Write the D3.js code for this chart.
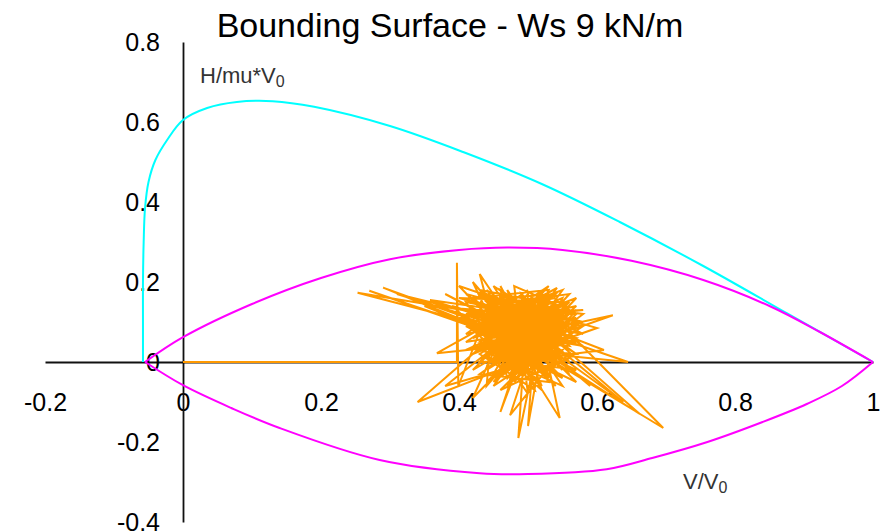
<!DOCTYPE html>
<html>
<head>
<meta charset="utf-8">
<script src="https://cdn.jsdelivr.net/npm/d3@7"></script>
<style>
	body { margin: 0; background: #fff; }
	svg text { font-family: "Liberation Sans", Arial, sans-serif; }
</style>
</head>
<body>
<svg></svg>
<script>

	var width = 880,
		height = 532;

	// values, [V/V0, H/mu*V0]
	var xTicks = [-0.2, 0, 0.2, 0.4, 0.6, 0.8, 1];
	var yTicks = [-0.4, -0.2, 0, 0.2, 0.4, 0.6, 0.8];

	var cyanCurve = [
		[-0.058, 0], [-0.058, 0.1], [-0.058, 0.2], [-0.057, 0.3], [-0.055, 0.385],
		[-0.05, 0.45], [-0.04, 0.505], [-0.023, 0.555], [0, 0.605], [0.035, 0.635],
		[0.078, 0.65], [0.13, 0.652], [0.19, 0.638], [0.3, 0.59], [0.406, 0.525],
		[0.52, 0.445], [0.633, 0.35], [0.754, 0.24], [0.875, 0.122], [1, 0]
	];

	var magentaUpper = [
		[-0.055, 0], [0, 0.062], [0.1, 0.145], [0.2, 0.21], [0.3, 0.257],
		[0.4, 0.28], [0.47, 0.286], [0.55, 0.28], [0.65, 0.253], [0.754, 0.205],
		[0.85, 0.14], [0.923, 0.075], [1, 0]
	];

	var magentaLower = [
		[-0.055, 0], [0, -0.058], [0.07, -0.115], [0.14, -0.165], [0.285, -0.245],
		[0.43, -0.278], [0.5, -0.28], [0.614, -0.268], [0.68, -0.24], [0.76, -0.2],
		[0.84, -0.15], [0.904, -0.105], [0.955, -0.06], [1, 0]
	];

	var stressPath = [
		[0,0],[0.397,0],[0.397,0.248],[0.399,-0.06],
		[0.44,0.12],[0.253,0.173],[0.46,0.08],[0.29,0.186],[0.47,0.06],[0.27,0.178],[0.45,0.07],
		[0.52,0.02],[0.43,0.15],[0.55,0.05],[0.48,-0.03],[0.50,0.14],[0.34,-0.10],[0.46,-0.02],
		[0.54,0.11],[0.45,0.01],[0.56,0.08],[0.47,0.16],[0.51,-0.04],[0.44,0.05],[0.623,0.117],
		[0.53,0.06],[0.48,0.12],[0.52,-0.02],[0.43,0.09],[0.55,0.13],[0.49,0.00],[0.46,0.14],
		[0.57,0.02],[0.50,0.10],[0.44,-0.01],[0.54,0.15],[0.47,0.03],[0.645,0.0],[0.51,0.08],
		[0.45,0.13],[0.53,-0.03],[0.48,0.07],[0.56,0.11],[0.43,0.04],[0.50,0.17],[0.486,-0.19],
		[0.52,0.09],[0.46,0.11],[0.55,0.01],[0.49,0.15],[0.44,0.02],[0.53,0.12],[0.47,-0.04],
		[0.43,0.22],[0.50,0.04],[0.56,0.14],[0.45,0.06],[0.52,0.16],[0.48,-0.01],[0.54,0.07],
		[0.42,0.11],[0.51,0.13],[0.46,0.00],[0.55,0.09],[0.696,-0.165],[0.49,0.05],[0.44,0.14],
		[0.53,0.03],[0.47,0.10],[0.57,0.06],[0.45,-0.03],[0.50,0.12],[0.358,0.155],[0.48,0.09],
		[0.54,-0.01],[0.46,0.05],[0.52,0.14],[0.43,0.07],[0.56,0.04],[0.49,0.17],[0.51,-0.02],
		[0.45,0.10],[0.542,0.185],[0.47,0.02],[0.53,0.10],[0.44,0.08],[0.55,0.16],[0.50,-0.03],
		[0.48,0.13],[0.368,0.022],[0.52,0.05],[0.46,0.15],[0.57,0.09],[0.49,0.02],[0.43,0.12],
		[0.54,0.04],[0.47,0.14],[0.638,-0.10],[0.51,0.06],[0.45,0.04],[0.56,0.12],[0.48,0.00],
		[0.53,0.15],[0.44,0.10],[0.50,0.07],[0.46,-0.01],[0.55,0.03],[0.474,-0.133],[0.52,0.11],
		[0.47,0.08],[0.54,0.13],[0.42,0.06],[0.49,0.14],[0.60,0.085],[0.51,0.03],[0.45,0.12],
		[0.53,0.08],[0.48,0.16],[0.56,0.00],[0.46,0.09],[0.31,0.17],[0.50,0.09],[0.44,-0.02],
		[0.55,0.10],[0.47,0.13],[0.52,0.00],[0.46,0.19],[0.49,0.08],[0.54,0.02],[0.43,0.05],
		[0.51,0.15],[0.546,-0.14],[0.48,0.04],[0.57,0.11],[0.45,0.08],[0.52,0.12],[0.40,0.19],
		[0.50,0.01],[0.55,0.07],[0.47,0.11],[0.53,-0.04],[0.44,0.13],[0.49,0.06],[0.662,-0.13],
		[0.51,0.10],[0.46,0.03],[0.56,0.06],[0.48,0.14],[0.42,-0.09],[0.50,0.05],[0.54,0.09],
		[0.45,0.15],[0.52,0.04],[0.47,0.00],[0.61,0.03],[0.49,0.11],[0.44,0.06],[0.53,0.13],
		[0.50,-0.16],[0.51,0.07],[0.46,0.12],[0.55,0.02],[0.48,0.10],[0.57,0.16],[0.50,0.03],
		[0.43,0.10],[0.54,0.06],[0.47,0.15],[0.52,0.01],[0.38,-0.06],[0.49,0.09],[0.56,0.10],
		[0.45,0.02],[0.51,0.12],[0.35,0.14],[0.48,0.05],[0.53,0.07],[0.46,0.13],[0.59,-0.06],
		[0.50,0.08],[0.44,0.04],[0.55,0.12],[0.47,0.07],[0.52,0.15],[0.46,-0.125],[0.49,0.03],
		[0.54,0.10],[0.45,0.11],[0.51,0.01],[0.48,0.08],[0.52,0.18],[0.50,0.06],[0.38,0.17],
		[0.47,0.09],[0.53,0.05],[0.49,0.12],[0.51,0.04],
		[0.48,0.06],[0.52,0.10],[0.46,0.04],[0.50,0.13],[0.53,0.02],[0.47,0.12],[0.51,0.00],[0.49,0.11],[0.45,0.07],[0.54,0.08],
		[0.48,0.02],[0.50,0.14],[0.52,0.06],[0.46,0.09],[0.53,0.12],[0.49,-0.01],[0.47,0.05],[0.51,0.11],[0.45,0.03],[0.54,0.05],
		[0.50,0.09],[0.46,0.13],[0.52,0.03],[0.48,0.10],[0.53,0.07],[0.47,0.01],[0.51,0.14],[0.49,0.04],[0.45,0.10],[0.54,0.11],
		[0.41,0.17],[0.48,0.08],[0.52,-0.01],[0.46,0.06],[0.50,0.02],[0.53,0.09],[0.47,0.13],[0.51,0.05],[0.49,0.12],[0.45,0.00],
		[0.54,0.03],[0.50,0.11],[0.46,0.08],[0.52,0.13],[0.48,0.03],[0.53,0.00],[0.47,0.07],[0.51,0.09],[0.49,0.01],[0.45,0.12],
		[0.58,0.13],[0.48,0.11],[0.52,0.07],[0.46,0.02],[0.50,0.10],[0.53,0.04],[0.47,0.14],[0.51,0.02],[0.49,0.07],[0.44,0.09],
		[0.55,0.06],[0.48,-0.02],[0.52,0.12],[0.46,0.10],[0.50,0.00],[0.53,0.11],[0.47,0.04],[0.51,0.13],[0.49,0.10],[0.45,0.05],
		[0.57,-0.05],[0.50,0.07],[0.46,0.14],[0.52,0.08],[0.48,0.12],[0.53,0.06],[0.47,-0.02],[0.51,0.08],[0.49,0.13],[0.44,0.07],
		[0.55,0.11],[0.48,0.01],[0.52,0.09],[0.46,0.07],[0.50,0.12],[0.53,0.01],[0.47,0.09],[0.51,0.06],[0.49,-0.03],[0.45,0.09],
		[0.42,0.20],[0.50,0.04],[0.46,0.11],[0.52,0.02],[0.48,0.13],[0.53,0.10],[0.47,0.06],[0.51,0.12],[0.49,0.02],[0.44,0.11],
		[0.55,0.04],[0.48,0.09],[0.52,0.05],[0.46,0.01],[0.50,0.15],[0.53,0.08],[0.47,0.03],[0.51,0.10],[0.49,0.06],[0.45,0.14],
		[0.44,-0.06],[0.50,0.06],[0.46,0.12],[0.52,0.11],[0.48,0.07],[0.53,0.14],[0.47,0.10],[0.51,-0.01],[0.49,0.09],[0.45,0.01],
		[0.55,0.08],[0.49,0.07],
		[0.42,0.02],[0.56,0.15],[0.44,-0.05],[0.57,0.08],[0.43,0.17],[0.55,-0.04],[0.41,0.09],[0.58,0.04],[0.45,0.19],[0.54,-0.06],
		[0.42,0.13],[0.57,0.12],[0.46,-0.07],[0.56,0.01],[0.43,0.00],[0.53,0.19],[0.41,0.05],[0.58,0.10],[0.44,0.16],[0.55,-0.02],
		[0.47,0.18],[0.52,-0.07],[0.42,0.08],[0.57,0.14],[0.45,-0.04],[0.56,0.17],[0.43,0.14],[0.54,0.16],[0.41,0.12],[0.58,0.07],
		[0.46,0.17],[0.55,-0.06],[0.42,0.04],[0.57,0.02],[0.44,0.18],[0.53,-0.05],[0.43,-0.03],[0.56,0.13],[0.48,0.19],[0.50,-0.08],
		[0.41,0.15],[0.58,0.09],[0.45,-0.06],[0.55,0.18],[0.42,0.10],[0.57,-0.02],[0.44,0.01],[0.54,0.17],[0.46,0.16],[0.52,-0.06],
		[0.39,0.14],[0.56,0.05],[0.43,0.18],[0.55,0.14],[0.41,0.03],[0.57,0.10],[0.47,-0.06],[0.53,0.18],[0.42,0.16],[0.56,-0.03],
		[0.44,0.15],[0.58,0.12],[0.45,-0.05],[0.54,0.14],[0.40,0.11],[0.57,0.05],[0.46,0.18],[0.51,-0.07],[0.43,0.02],[0.55,0.15],
		[0.40,0.16],[0.56,0.09],[0.44,0.12],[0.53,0.17],[0.42,-0.02],[0.57,0.13],[0.48,-0.05],[0.54,0.12],[0.41,0.07],[0.50,0.18]
	];

	var x = d3.scaleLinear().domain([-0.2, 1]).range([45, 873]);
	var y = d3.scaleLinear().domain([-0.4, 0.8]).range([522, 42]);

	var svg = d3.select("svg")
		.attr("width", width)
		.attr("height", height);

	svg.append("text")
		.attr("x", 450)
		.attr("y", 37)
		.attr("text-anchor", "middle")
		.attr("font-size", "34px")
		.attr("fill", "#000")
		.text("Bounding Surface - Ws 9 kN/m");

	// plain hyphen for negatives, like the original
	var plain = function(d) { return String(d); };

	// axes cross at the origin
	var xAxis = svg.append("g")
		.attr("transform", "translate(0," + y(0) + ")")
		.call(d3.axisBottom(x).tickValues(xTicks).tickSize(0).tickPadding(31).tickFormat(plain));

	var yAxis = svg.append("g")
		.attr("transform", "translate(" + x(0) + ",0)")
		.call(d3.axisLeft(y).tickValues(yTicks).tickSize(0).tickPadding(23).tickFormat(plain));

	svg.selectAll(".domain")
		.attr("stroke", "#111")
		.attr("stroke-width", 1.8);

	svg.selectAll(".tick text")
		.attr("font-size", "25px")
		.attr("font-family", "Liberation Sans, Arial, sans-serif")
		.attr("fill", "#000");

	var yTitle = svg.append("text")
		.attr("x", 200)
		.attr("y", 83)
		.attr("font-size", "22px")
		.attr("fill", "#333");
	yTitle.append("tspan").text("H/mu*V");
	yTitle.append("tspan").attr("font-size", "16px").attr("dy", 4).text("0");

	var xTitle = svg.append("text")
		.attr("x", 683)
		.attr("y", 489)
		.attr("font-size", "22px")
		.attr("fill", "#333");
	xTitle.append("tspan").text("V/V");
	xTitle.append("tspan").attr("font-size", "16px").attr("dy", 4).text("0");

	var smooth = d3.line()
		.x(function(d) { return x(d[0]); })
		.y(function(d) { return y(d[1]); })
		.curve(d3.curveCatmullRom.alpha(0.5));

	var straight = d3.line()
		.x(function(d) { return x(d[0]); })
		.y(function(d) { return y(d[1]); });

	svg.append("path")
		.datum(cyanCurve)
		.attr("d", smooth)
		.attr("fill", "none")
		.attr("stroke", "#00ffff")
		.attr("stroke-width", 2);

	svg.selectAll(".bound")
		.data([magentaUpper, magentaLower])
		.enter()
		.append("path")
		.attr("class", "bound")
		.attr("d", smooth)
		.attr("fill", "none")
		.attr("stroke", "#ff00ff")
		.attr("stroke-width", 2);

	svg.append("path")
		.datum(stressPath)
		.attr("d", straight)
		.attr("fill", "none")
		.attr("stroke", "#ff9900")
		.attr("stroke-width", 2)
		.attr("stroke-linejoin", "miter");

</script>
</body>
</html>
